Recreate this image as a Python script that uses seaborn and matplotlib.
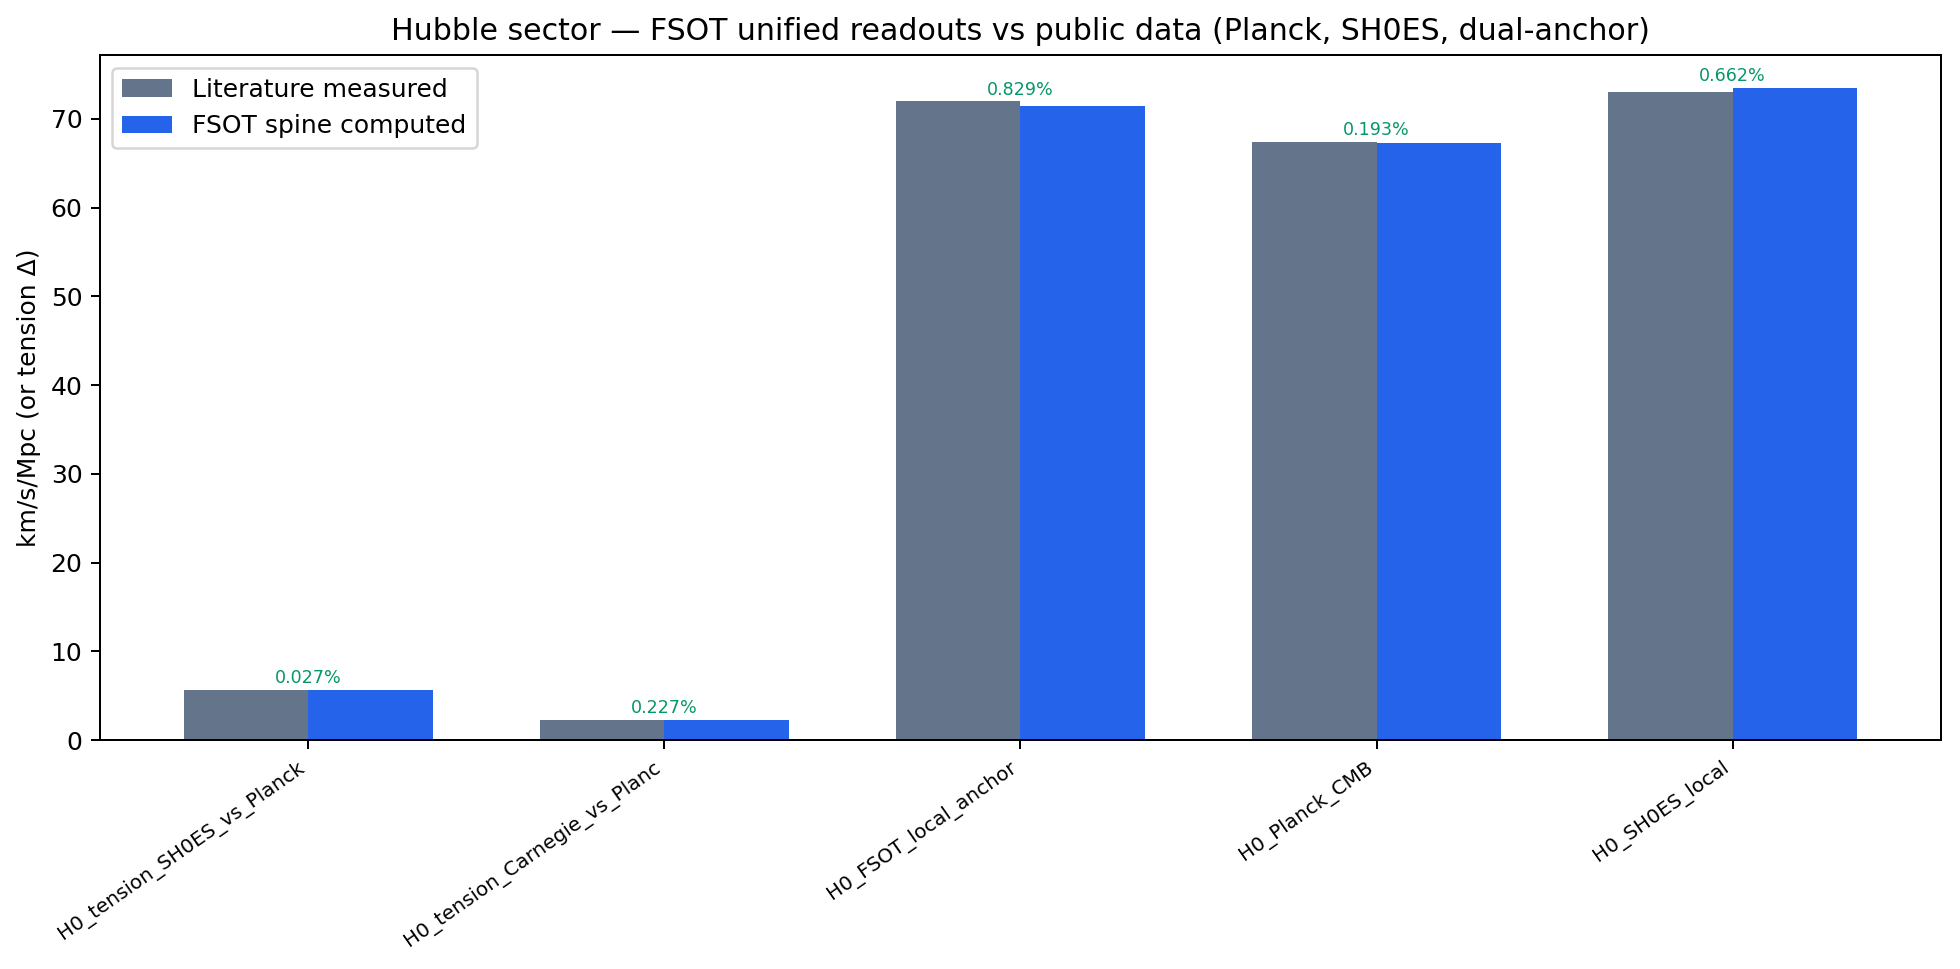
import pandas as pd
import matplotlib
matplotlib.use("Agg")
import matplotlib.pyplot as plt
import seaborn as sns

# Werte
labels = [
    "H0_tension_SH0ES_vs_Planck",
    "H0_tension_Carnegie_vs_Planc",
    "H0_FSOT_local_anchor",
    "H0_Planck_CMB",
    "H0_SH0ES_local",
]
measured = [5.64, 2.30, 72.00, 67.40, 73.04]
computed = [5.6385, 2.3052, 71.403, 67.27, 73.523]
pct_err = ["0.027%", "0.227%", "0.829%", "0.193%", "0.662%"]

series_names = ["Literature measured", "FSOT spine computed"]
colors = ["#64748b", "#2563eb"]

df = pd.DataFrame({
    "label": labels * 2,
    "value": measured + computed,
    "kind": [series_names[0]] * len(labels) + [series_names[1]] * len(labels),
})

dpi = 180
fig, ax = plt.subplots(figsize=(1960 / dpi, 969 / dpi), dpi=dpi)
sns.barplot(
    data=df, x="label", y="value", hue="kind", order=labels,
    hue_order=series_names, palette=colors, saturation=1,
    width=0.7, ax=ax, errorbar=None,
)

# Abweichung ueber jeder Gruppe
for i, txt in enumerate(pct_err):
    top = max(measured[i], computed[i])
    ax.annotate(txt, (i, top), xytext=(0, 1), textcoords="offset points",
                ha="center", va="bottom", fontsize=7, color="#059669")

ax.set_xlim(-0.585, len(labels) - 1 + 0.585)
ax.set_xlabel("")
ax.set_ylabel("km/s/Mpc (or tension Δ)")
ax.set_title("Hubble sector — FSOT unified readouts vs public data (Planck, SH0ES, dual-anchor)")
plt.setp(ax.get_xticklabels(), rotation=35, ha="right", fontsize=8)
ax.legend(loc="upper left", title=None)

fig.subplots_adjust(left=0.051, right=0.9903, top=0.9432, bottom=0.2363)
fig.savefig("out.png", dpi=dpi)
